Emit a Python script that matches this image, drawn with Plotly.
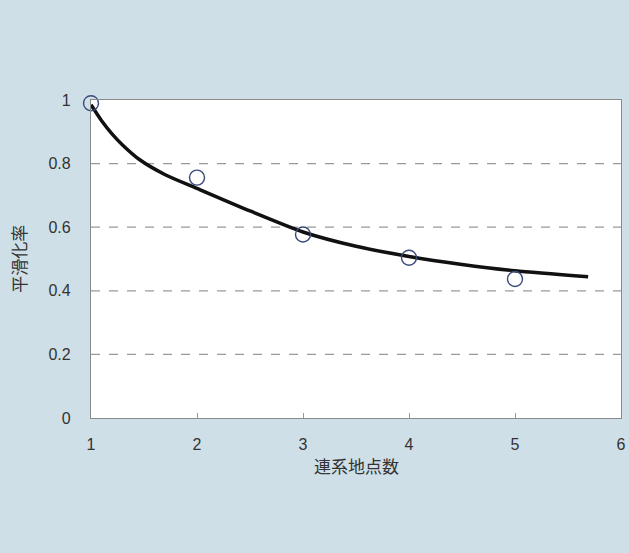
import plotly.graph_objects as go

# observed data points
obs_x = [1, 2, 3, 4, 5]
obs_y = [0.99, 0.756, 0.577, 0.504, 0.437]

# fitted curve
curve_x = [1.0, 1.1, 1.2, 1.3, 1.46, 1.7, 2.0, 2.5, 3.0, 3.5, 4.0, 4.5, 5.0, 5.69]
curve_y = [0.985, 0.935, 0.893, 0.858, 0.812, 0.765, 0.722, 0.651, 0.585, 0.540, 0.508, 0.483, 0.463, 0.444]

x_ticks = [1, 2, 3, 4, 5, 6]
y_ticks = [0, 0.2, 0.4, 0.6, 0.8, 1]
y_ticklabels = ["0", "0.2", "0.4", "0.6", "0.8", "1"]
grid_y = [0.2, 0.4, 0.6, 0.8]

x_title = "連系地点数"
y_title = "平滑化率"

fig = go.Figure()
fig.add_trace(go.Scatter(
    x=curve_x, y=curve_y, mode="lines",
    line=dict(color="#111111", width=3.5, shape="spline", smoothing=0.7),
    hoverinfo="skip", showlegend=False))
fig.add_trace(go.Scatter(
    x=obs_x, y=obs_y, mode="markers",
    marker=dict(symbol="circle", size=15, color="rgba(255,255,255,0)",
                line=dict(color="#3a4a78", width=1.4)),
    cliponaxis=False, showlegend=False))

for yv in grid_y:
    fig.add_shape(type="line", xref="paper", x0=0, x1=1, yref="y", y0=yv, y1=yv,
                  line=dict(color="#9a9a9a", width=1.2, dash="dash"), layer="below")

tick_font = dict(family="Liberation Sans, Arial, sans-serif", size=16, color="#333333")
title_font = dict(family="Noto Sans CJK JP", size=17, color="#333333")

fig.add_annotation(text=x_title, xref="paper", yref="paper", x=0.5, y=-0.15,
                   showarrow=False, font=title_font, xanchor="center", yanchor="middle")
fig.add_annotation(text=y_title, xref="paper", yref="paper", x=-0.138, y=0.5, textangle=-90,
                   showarrow=False, font=title_font, xanchor="center", yanchor="middle")

fig.update_layout(
    width=629, height=553,
    paper_bgcolor="#cfdfe7", plot_bgcolor="#ffffff",
    margin=dict(l=91, r=8, t=100, b=135),
    xaxis=dict(range=[1, 6], tickvals=x_ticks, ticktext=[str(v) for v in x_ticks],
               ticks="inside", ticklen=5, tickcolor="#999999",
               showgrid=False, zeroline=False, showline=True, linecolor="#8a8a8a",
               linewidth=1.2, mirror=True, tickfont=tick_font, ticklabelstandoff=12,
               automargin=False),
    yaxis=dict(range=[0, 1], tickvals=y_ticks, ticktext=y_ticklabels,
               ticks="", showgrid=False, zeroline=False, showline=True, linecolor="#8a8a8a",
               linewidth=1.2, mirror=True, tickfont=tick_font, ticklabelstandoff=16,
               automargin=False),
)

fig.write_html("out.html", config={"displayModeBar": False},
               post_script="document.body.style.margin='0px';")
